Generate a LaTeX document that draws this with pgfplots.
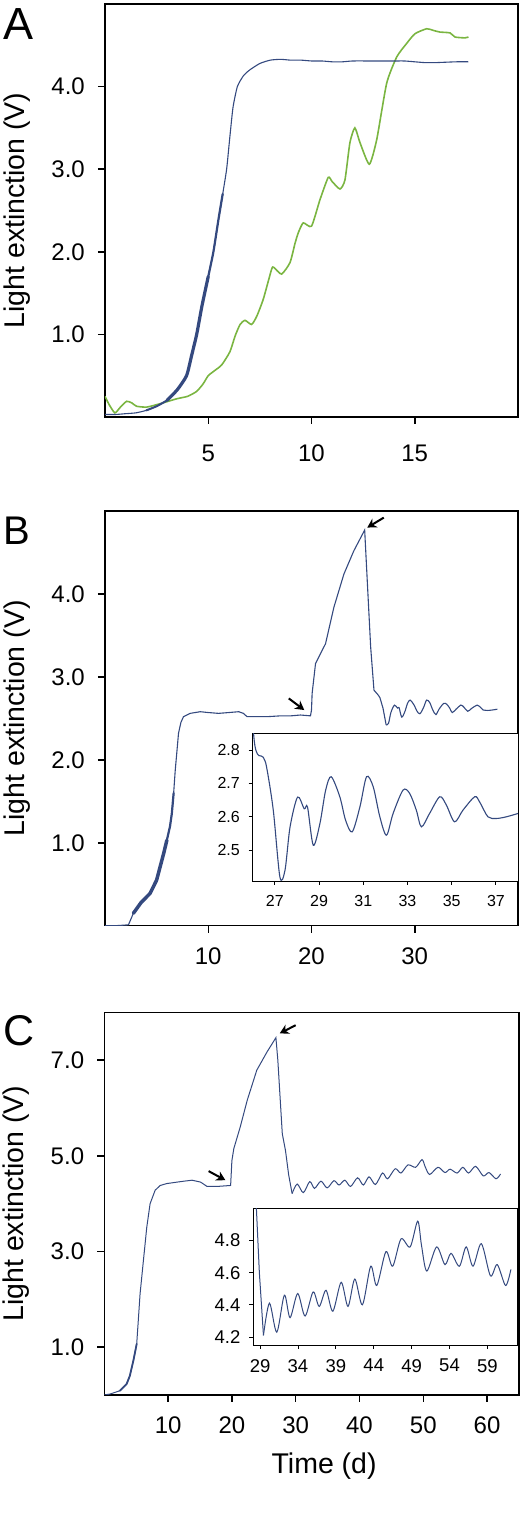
\documentclass[border=0pt]{standalone}
\usepackage{fontspec}
\setmainfont{Liberation Sans}
\usepackage{pgfplots}
\usepackage{pgfplotstable}
\pgfplotsset{compat=1.18}
\usetikzlibrary{arrows.meta}
\definecolor{cblue}{RGB}{52,73,127}
\definecolor{cgreen}{RGB}{122,181,65}

\pgfplotstableread{
x y
0 0.03
0.5 0.03
1 0.04
1.5 0.05
2 0.08
2.5 0.13
3 0.2
3.5 0.33
3.95 0.5
4.2 0.75
4.44 1.0
4.7 1.35
5.0 1.7
5.25 2.0
5.5 2.4
5.7 2.7
5.89 3.0
6.05 3.4
6.2 3.75
6.41 4.0
6.7 4.13
7.0 4.2
7.5 4.28
8.0 4.32
8.5 4.33
9.0 4.32
9.5 4.32
10.0 4.31
10.5 4.31
11.0 4.30
11.5 4.30
12.0 4.31
13.0 4.31
14.0 4.31
14.5 4.31
15.0 4.30
15.5 4.29
16.0 4.29
17.0 4.30
17.6 4.30
}\Ablue

\pgfplotstableread{
x y
0 0.25
0.2 0.15
0.48 0.05
0.75 0.12
1.05 0.19
1.3 0.17
1.53 0.13
2.02 0.12
2.66 0.16
3.47 0.22
4.0 0.25
4.44 0.31
4.75 0.40
5.0 0.50
5.3 0.56
5.65 0.63
6.05 0.79
6.3 0.98
6.54 1.12
6.78 1.17
7.1 1.12
7.35 1.22
7.67 1.43
8.07 1.79
8.18 1.81
8.55 1.73
8.96 1.87
9.2 2.1
9.36 2.23
9.6 2.35
10.0 2.31
10.41 2.63
10.81 2.9
11.0 2.85
11.38 2.76
11.62 2.87
11.86 3.32
12.1 3.5
12.35 3.32
12.8 3.06
13.16 3.36
13.64 4.04
14.13 4.36
14.6 4.52
15.01 4.64
15.58 4.70
15.9 4.68
16.22 4.66
16.71 4.65
16.95 4.60
17.43 4.59
17.6 4.60
}\Agreen

\pgfplotstableread{
x y
0 0.0
1 0.0
2.27 0.01
2.75 0.15
3.5 0.28
4.37 0.39
5.0 0.55
5.34 0.71
5.7 0.88
5.99 1.03
6.3 1.2
6.47 1.35
6.65 1.6
6.8 1.87
7.0 2.15
7.12 2.32
7.35 2.45
7.6 2.52
8.25 2.56
9.22 2.58
10 2.57
11 2.56
12 2.57
12.95 2.58
13.4 2.56
13.76 2.52
14.5 2.52
15.7 2.52
17 2.53
18 2.53
18.93 2.54
19.9 2.53
20.0 2.6
20.06 2.8
20.39 3.16
20.87 3.28
21.36 3.40
22.17 3.84
23.14 4.24
24.1 4.52
25.15 4.77
25.4 4.16
25.73 3.36
26.05 2.84
26.48 2.778
26.63 2.748
26.93 2.62
27.23 2.42
27.46 2.44
27.69 2.57
28.03 2.659
28.33 2.624
28.48 2.629
28.74 2.515
29.04 2.58
29.3 2.68
29.55 2.72
29.94 2.66
30.2 2.59
30.5 2.555
30.85 2.63
31.15 2.72
31.45 2.69
31.75 2.60
32.05 2.545
32.35 2.61
32.8 2.68
33.1 2.67
33.4 2.62
33.63 2.57
34.0 2.61
34.46 2.66
34.76 2.635
35.13 2.585
35.51 2.62
36.04 2.66
36.26 2.645
36.64 2.60
37.02 2.595
37.47 2.60
38.0 2.61
}\Bdata

\pgfplotstableread{
x y
0 0.0
0.89 0.02
2.46 0.09
3.5 0.23
4.0 0.4
4.56 0.72
5.08 1.07
5.35 1.6
5.61 2.12
6.13 2.81
6.66 3.51
7.18 4.0
7.97 4.28
8.76 4.38
9.8 4.42
11.4 4.45
12.5 4.47
13.75 4.49
15.1 4.45
16.1 4.36
17.7 4.36
19.8 4.38
20.0 4.9
20.3 5.15
21.3 5.6
22.4 6.16
23.9 6.79
25.5 7.17
26.9 7.47
27.2 7.0
27.9 5.46
28.4 5.11
28.9 4.6
29.44 4.21
30.23 4.41
31.2 4.23
32.2 4.46
32.95 4.32
33.96 4.47
34.93 4.33
36.0 4.48
36.8 4.39
37.7 4.49
38.6 4.36
39.7 4.54
40.6 4.39
41.5 4.56
42.5 4.40
43.6 4.64
44.4 4.52
45.6 4.73
46.5 4.64
47.6 4.81
48.8 4.76
49.8 4.92
50.3 4.77
51.0 4.61
52.3 4.76
53.4 4.65
54.2 4.72
55.3 4.64
56.2 4.76
57.1 4.64
58.2 4.78
59.4 4.58
60.3 4.65
61.4 4.52
62.1 4.62
}\Cdata

\pgfplotsset{
  mainax/.style={
    scale only axis, anchor=south west,
    axis line style={line width=1.5pt},
    tick align=outside, tick pos=left,
    major tick length=7pt,
    tick style={line width=1.5pt, black},
    /pgf/number format/assume math mode=true,
    ticklabel style={font=\fontsize{24}{28}\selectfont, inner sep=0pt},
    yticklabel shift=13pt,
    xticklabel shift=15pt,
    every axis x label/.style={font=\fontsize{28.5}{33}\selectfont},
    every axis y label/.style={at={(axis description cs:-0.212,0.5)}, rotate=90, anchor=center, font=\fontsize{28.5}{33}\selectfont},
  },
  insetax/.style={
    scale only axis, anchor=south west,
    axis background/.style={fill=white},
    axis line style={line width=0.9pt},
    tick align=outside, tick pos=left,
    major tick length=4pt,
    tick style={line width=0.9pt, black},
    /pgf/number format/assume math mode=true,
    ticklabel style={inner sep=0pt},
    yticklabel shift=8.7pt,
    xticklabel shift=10pt,
  },
}

\begin{document}
\begin{tikzpicture}
\useasboundingbox (0,0) rectangle (524pt,1528pt);

% ---------------- Panel A
\begin{axis}[mainax, at={(105pt,1111pt)}, width=413pt, height=413pt,
  xmin=0, xmax=20, ymin=0, ymax=5,
  xtick={5,10,15}, ytick={1,2,3,4}, yticklabels={1.0,2.0,3.0,4.0},
  xticklabel shift=21pt,
  ylabel={Light extinction (V)}]
\addplot[cgreen, line width=1.6pt, smooth, tension=0.35] table {\Agreen};
\addplot[cblue, line width=1.1pt, smooth, tension=0.35] table {\Ablue};
\addplot[cblue, line width=2pt, line cap=round, smooth, tension=0.35, restrict x to domain=1.8:3.1] table {\Ablue};
\addplot[cblue, line width=3.2pt, line cap=round, smooth, tension=0.35, restrict x to domain=3.0:5.0] table {\Ablue};
\addplot[cblue, line width=2.2pt, line cap=round, smooth, tension=0.35, restrict x to domain=5.0:5.8] table {\Ablue};
\end{axis}
\node[anchor=base west, inner sep=0pt, font=\fontsize{45}{50}\selectfont] at (3pt,1488.7pt) {A};

% ---------------- Panel B
\begin{axis}[mainax, at={(105pt,602.3pt)}, width=413pt, height=414.7pt,
  xmin=0, xmax=40, ymin=0, ymax=5,
  xtick={10,20,30}, ytick={1,2,3,4}, yticklabels={1.0,2.0,3.0,4.0},
  ylabel={Light extinction (V)}]
\addplot[cblue, line width=1.1pt, restrict x to domain=0:27.3] table {\Bdata};
\addplot[cblue, line width=1.1pt, smooth, tension=0.5, restrict x to domain=27.2:38.1] table {\Bdata};
\addplot[cblue, line width=3.5pt, line cap=round, restrict x to domain=2.7:6.0] table {\Bdata};
\addplot[cblue, line width=2.2pt, line cap=round, restrict x to domain=5.9:6.7] table {\Bdata};
\draw[-{Stealth[length=9pt,width=10pt]}, line width=2pt] (axis cs:17.8,2.74) -- (axis cs:19.3,2.6);
\draw[-{Stealth[length=9pt,width=10pt]}, line width=2pt] (axis cs:27.0,4.92) -- (axis cs:25.4,4.80);
\end{axis}
\node[anchor=base west, inner sep=0pt, font=\fontsize{40}{45}\selectfont] at (3pt,983pt) {B};

\begin{axis}[insetax, at={(252.7pt,647pt)}, width=265.3pt, height=147.7pt,
  xmin=26, xmax=38, ymin=2.408, ymax=2.85,
  xtick={27,29,31,33,35,37}, ytick={2.5,2.6,2.7,2.8},
  yticklabels={2.5,2.6,2.7,2.8},
  ticklabel style={font=\fontsize{16}{19}\selectfont}]
\addplot[cblue, line width=1.1pt, smooth, tension=0.5] table {\Bdata};
\end{axis}

% ---------------- Panel C
\begin{axis}[mainax, at={(104.3pt,133pt)}, width=414.7pt, height=382.7pt,
  xmin=0, xmax=65, ymin=0, ymax=8,
  xtick={10,20,30,40,50,60}, ytick={1,3,5,7}, yticklabels={1.0,3.0,5.0,7.0},
  ylabel={Light extinction (V)}, xlabel={Time (d)},
  xlabel style={at={(axis description cs:0.53,-0.186)}, anchor=center}]
\addplot[cblue, line width=1pt, restrict x to domain=0:29.5] table {\Cdata};
\addplot[cblue, line width=1pt, smooth, tension=0.5, restrict x to domain=29.4:63] table {\Cdata};
\addplot[cblue, line width=1.8pt, line cap=round, restrict x to domain=2.4:5.2] table {\Cdata};
\draw[-{Stealth[length=9pt,width=10pt]}, line width=2pt] (axis cs:16.35,4.68) -- (axis cs:18.98,4.49);
\draw[-{Stealth[length=9pt,width=10pt]}, line width=2pt] (axis cs:30.0,7.73) -- (axis cs:27.5,7.56);
\end{axis}
\node[anchor=base west, inner sep=0pt, font=\fontsize{43}{48}\selectfont] at (3pt,482.5pt) {C};

\begin{axis}[insetax, at={(253.3pt,183pt)}, width=264.4pt, height=136.7pt,
  xmin=28.1, xmax=63, ymin=4.15, ymax=5.0,
  xtick={29,34,39,44,49,54,59}, ytick={4.2,4.4,4.6,4.8},
  yticklabels={4.2,4.4,4.6,4.8},
  ticklabel style={font=\fontsize{18.5}{22}\selectfont}]
\addplot[cblue, line width=1pt, restrict x to domain=28:29.5] table {\Cdata};
\addplot[cblue, line width=1pt, smooth, tension=0.5, restrict x to domain=29.4:63] table {\Cdata};
\end{axis}
\end{tikzpicture}
\end{document}
